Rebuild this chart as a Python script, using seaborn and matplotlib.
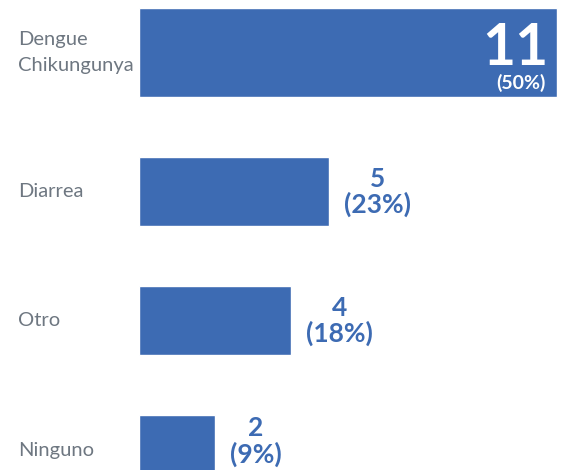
import pandas as pd
import matplotlib.pyplot as plt
import matplotlib.transforms as mtransforms
import seaborn as sns

categories = ["Dengue\nChikungunya", "Diarrea", "Otro", "Ninguno"]
counts = [11, 5, 4, 2]
percents = [50, 23, 18, 9]

blue = "#3D6BB3"
grey = "#6E7781"

sns.set_style("white")
plt.rcParams['font.family'] = ['Lato', 'DejaVu Sans']

df = pd.DataFrame({"cat": categories, "n": counts, "pct": percents})

fig = plt.figure(figsize=(5.67, 4.70), dpi=100)
ax = fig.add_axes([139 / 567, 0, 428 / 567, 1])

sns.barplot(data=df, y="cat", x="n", orient="h", color=blue, saturation=1,
            width=0.535, ax=ax)

# first bar is drawn taller and slightly raised, like the original
top = ax.patches[0]
top.set_height(0.69)
top.set_y(-0.426)

ax.set_xlim(0, 11.26)
ax.set_ylim(3.155, -0.488)
sns.despine(ax=ax, left=True, bottom=True)
ax.set_xticks([])
ax.set_yticks([])
ax.set_xlabel("")
ax.set_ylabel("")

# category labels, left aligned near the figure edge
trans = mtransforms.blended_transform_factory(fig.transFigure, ax.transData)
for i, (cat, bar) in enumerate(zip(categories, ax.patches)):
    yc = bar.get_y() + bar.get_height() / 2
    ax.text(18 / 567, yc, cat, transform=trans, ha="left", va="center",
            color=grey, fontsize=14.5, linespacing=1.7, clip_on=False)

# value labels
for i, (n, p) in enumerate(zip(counts, percents)):
    if i == 0:
        bar = ax.patches[0]
        ax.annotate(str(n), (n, bar.get_y()), xytext=(-6, -41), textcoords="offset points",
                    ha="right", va="baseline", color="white", fontsize=41, fontweight="bold")
        ax.annotate(f"({p}%)", (n, bar.get_y()), xytext=(-8, -58), textcoords="offset points",
                    ha="right", va="baseline", color="white", fontsize=14, fontweight="bold")
    else:
        dy = 6 if i == len(counts) - 1 else 0
        ax.annotate(f"{n}\n({p}%)", (n, i), xytext=(11, dy), textcoords="offset points",
                    ha="left", va="center", multialignment="center", color=blue,
                    fontsize=19, fontweight="bold", linespacing=1.05)

fig.savefig("out.png", dpi=100)
